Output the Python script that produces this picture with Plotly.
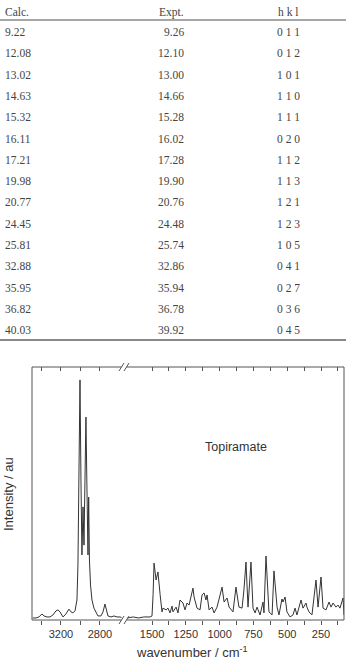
import plotly.graph_objects as go

# ---------------- table data ----------------
table_header = ["Calc.", "Expt.", "h k l"]
calc = ["9.22", "12.08", "13.02", "14.63", "15.32", "16.11", "17.21", "19.98",
        "20.77", "24.45", "25.81", "32.88", "35.95", "36.82", "40.03"]
expt = ["9.26", "12.10", "13.00", "14.66", "15.28", "16.02", "17.28", "19.90",
        "20.76", "24.48", "25.74", "32.86", "35.94", "36.78", "39.92"]
hkl = ["0 1 1", "0 1 2", "1 0 1", "1 1 0", "1 1 1", "0 2 0", "1 1 2", "1 1 3",
       "1 2 1", "1 2 3", "1 0 5", "0 4 1", "0 2 7", "0 3 6", "0 4 5"]

# ---------------- spectrum data ----------------
# high-wavenumber segment (cm-1, a.u.)
hi_wn = [3490, 3456, 3426, 3395, 3374, 3344, 3313, 3282, 3251, 3231, 3210, 3179,
         3149, 3128, 3118, 3097, 3077, 3056, 3036, 3026, 3015, 3005, 2995, 2985,
         2974, 2964, 2954, 2944, 2936, 2930, 2923, 2916, 2908, 2897, 2882, 2862,
         2841, 2821, 2790, 2769, 2749, 2738, 2718, 2687, 2656, 2626, 2595, 2564, 2530]
hi_int = [0.8, 0.8, 1.2, 2.4, 1.6, 1.2, 1.2, 2.0, 3.6, 4.0, 3.2, 1.2,
          2.4, 4.0, 4.3, 3.2, 2.8, 3.6, 7.9, 21.7, 59.3, 94.9, 55.3, 25.7,
          44.7, 29.6, 55.3, 80.2, 58.1, 39.5, 25.7, 48.6, 23.7, 13.8, 7.9, 4.7,
          2.8, 1.6, 1.6, 3.2, 6.3, 4.3, 1.6, 1.2, 1.6, 1.2, 1.2, 0.8, 0.8]

# low-wavenumber segment
lo_wn = [1680, 1640, 1600, 1560, 1515, 1500, 1492, 1485, 1470, 1456, 1440, 1426,
         1419, 1396, 1382, 1367, 1352, 1345, 1322, 1308, 1293, 1278, 1271, 1256,
         1241, 1226, 1212, 1197, 1189, 1167, 1145, 1130, 1115, 1101, 1093, 1078,
         1056, 1041, 1019, 1004, 982, 967, 945, 930, 901, 879, 857, 834,
         820, 805, 790, 768, 753, 738, 723, 701, 679, 672, 657, 635,
         612, 598, 575, 561, 539, 531, 516, 502, 479, 457, 442, 428,
         398, 383, 361, 354, 339, 317, 287, 272, 250, 235, 213, 191,
         176, 161, 139, 124, 110, 87, 80]
lo_int = [0.8, 1.2, 0.8, 1.2, 1.2, 1.6, 10.0, 22.5, 15.8, 19.0, 10.0, 3.2,
          4.7, 4.0, 4.7, 2.8, 5.5, 3.2, 5.1, 2.8, 7.9, 7.1, 6.7, 4.0,
          6.7, 5.9, 9.1, 12.6, 9.1, 4.7, 4.0, 9.9, 10.7, 7.9, 9.9, 4.0,
          5.1, 2.8, 5.1, 7.9, 13.0, 7.1, 8.7, 5.1, 3.2, 13.0, 5.1, 4.7,
          11.9, 22.9, 5.1, 22.9, 4.7, 2.8, 5.1, 2.0, 7.1, 2.8, 25.3, 3.2,
          2.0, 19.4, 5.1, 2.0, 8.3, 7.1, 9.1, 3.2, 1.2, 2.0, 4.7, 2.0,
          7.9, 4.7, 6.7, 5.1, 3.2, 2.0, 15.8, 5.1, 17.0, 4.7, 4.0, 7.1,
          5.1, 6.7, 5.1, 5.9, 4.7, 8.7, 2.0]

hi_ticks = [3200, 2800]
hi_minor = [3400, 3000]
lo_ticks = [1500, 1250, 1000, 750, 500, 250]
lo_minor = [1375, 1125, 875, 625, 375, 125]
hi_range = [3497, 2523]
lo_range = [1685, 80]

# ---------------- layout geometry ----------------
W, H = 346, 659
L, R, T, B = 32, 344, 367, 620  # plot area in pixels


def px_x(x):
    return (x - L) / (R - L)


def px_y(y):
    return (B - y) / (B - T)


split = px_x(127)
LINE = "#333333"
FRAME = "#555555"
TXT = "#444444"

fig = go.Figure()
fig.add_trace(go.Scatter(x=hi_wn, y=hi_int, mode="lines", xaxis="x", yaxis="y",
                         line=dict(color=LINE, width=1), hoverinfo="skip"))
fig.add_trace(go.Scatter(x=lo_wn, y=lo_int, mode="lines", xaxis="x2", yaxis="y",
                         line=dict(color=LINE, width=1), hoverinfo="skip"))
fig.add_trace(go.Scatter(x=[], y=[], xaxis="x3", yaxis="y", hoverinfo="skip"))
fig.add_trace(go.Scatter(x=[], y=[], xaxis="x4", yaxis="y", hoverinfo="skip"))

tickfont = dict(family="Liberation Sans, Arial, sans-serif", size=11, color="#333")
common = dict(showgrid=False, zeroline=False, showline=False, tickcolor=FRAME,
              ticklen=4, tickwidth=1, tickfont=tickfont)

fig.update_layout(
    width=W, height=H,
    margin=dict(l=L, r=W - R, t=T, b=H - B, pad=0),
    paper_bgcolor="white", plot_bgcolor="white",
    showlegend=False,
    xaxis=dict(domain=[0, split], range=hi_range, ticks="outside",
               tickmode="array", tickvals=hi_ticks,
               minor=dict(tickvals=hi_minor, ticks="outside", ticklen=4, tickcolor=FRAME),
               **common),
    xaxis2=dict(domain=[split, 1], range=lo_range, ticks="outside", anchor="y",
                tickmode="array", tickvals=lo_ticks,
                minor=dict(tickvals=lo_minor, ticks="outside", ticklen=4, tickcolor=FRAME),
                **common),
    xaxis3=dict(overlaying="x", side="top", range=hi_range, ticks="inside",
                tickmode="array", tickvals=hi_ticks + hi_minor, showticklabels=False,
                anchor="y", **common),
    xaxis4=dict(overlaying="x2", side="top", range=lo_range, ticks="inside",
                tickmode="array", tickvals=lo_ticks + lo_minor, showticklabels=False,
                anchor="y", **common),
    yaxis=dict(range=[0, 100], visible=False, fixedrange=True),
)

shapes = []
# frame
shapes.append(dict(type="rect", xref="paper", yref="paper", x0=0, x1=1, y0=0, y1=1,
                   line=dict(color=FRAME, width=1), layer="above"))
# axis break marks (top and bottom)
for yc in (T, B):
    shapes.append(dict(type="rect", xref="paper", yref="paper",
                       x0=px_x(121.5), x1=px_x(126.5), y0=px_y(yc + 3), y1=px_y(yc - 3),
                       fillcolor="white", line=dict(width=0), layer="above"))
    for xs in (119, 124):
        shapes.append(dict(type="line", xref="paper", yref="paper",
                           x0=px_x(xs), y0=px_y(yc + 4), x1=px_x(xs + 5), y1=px_y(yc - 4),
                           line=dict(color=FRAME, width=1), layer="above"))
# table rules
shapes.append(dict(type="line", xref="paper", yref="paper", x0=px_x(0), x1=px_x(W),
                   y0=px_y(20), y1=px_y(20), line=dict(color="#888", width=1.5)))
shapes.append(dict(type="line", xref="paper", yref="paper", x0=px_x(0), x1=px_x(W),
                   y0=px_y(340), y1=px_y(340), line=dict(color="#888", width=2)))
fig.update_layout(shapes=shapes)

ann = []
serif = dict(family="Liberation Serif, Times New Roman, serif", size=11.5, color=TXT)
col_x = [3, 186, 288]
col_anchor = ["left", "right", "center"]
for j, h in enumerate(table_header):
    ann.append(dict(text=h, x=px_x(col_x[j]), y=px_y(12), xref="paper", yref="paper",
                    xanchor=col_anchor[j], yanchor="middle", showarrow=False, font=serif))
for i in range(len(calc)):
    yrow = 32 + i * 21.3
    for j, col in enumerate((calc, expt, hkl)):
        ann.append(dict(text=col[i], x=px_x(col_x[j]), y=px_y(yrow), xref="paper",
                        yref="paper", xanchor=col_anchor[j], yanchor="middle",
                        showarrow=False, font=serif))

sans = "Liberation Sans, Arial, sans-serif"
ann.append(dict(text="Topiramate", x=px_x(236), y=px_y(447), xref="paper", yref="paper",
                xanchor="center", yanchor="middle", showarrow=False,
                font=dict(family=sans, size=12.5, color="#333")))
ann.append(dict(text="wavenumber / cm<sup>-1</sup>", x=px_x(192), y=px_y(652),
                xref="paper", yref="paper", xanchor="center", yanchor="middle",
                showarrow=False, font=dict(family=sans, size=13, color="#333")))
ann.append(dict(text="Intensity / au", x=px_x(8), y=px_y(494), xref="paper", yref="paper",
                xanchor="center", yanchor="middle", textangle=-90, showarrow=False,
                font=dict(family=sans, size=13, color="#333")))
fig.update_layout(annotations=ann)

fig.write_html("out.html")
